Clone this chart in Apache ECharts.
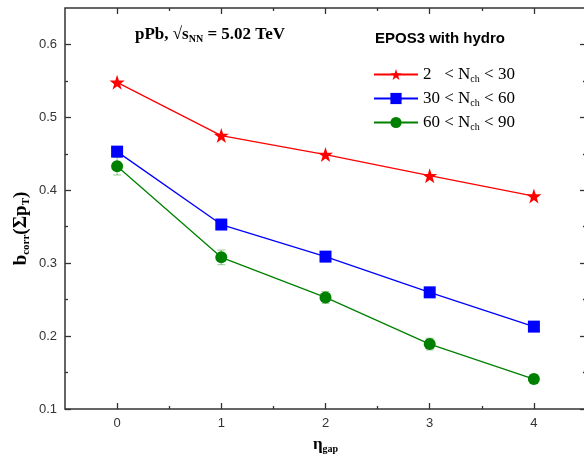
<!DOCTYPE html>
<html>
<head>
<meta charset="utf-8">
<script src="https://cdn.jsdelivr.net/npm/echarts@6/dist/echarts.min.js"></script>
<style>html,body{margin:0;padding:0;background:#fff}#c{width:584px;height:458px}</style>
</head>
<body>
<div id="c"></div>
<script>
var etaGap = [0, 1, 2, 3, 4];
var low = [0.548, 0.475, 0.449, 0.420, 0.392];
var mid = [0.453, 0.353, 0.309, 0.260, 0.213];
var high = [0.433, 0.308, 0.253, 0.189, 0.141];
var highErr = [0.012, 0.010, 0.008, 0.008, 0.006];
var xMajor = [0, 1, 2, 3, 4];
var xMinor = [0.5, 1.5, 2.5, 3.5];
var yMajor = [0.1, 0.2, 0.3, 0.4, 0.5, 0.6];
var yMinor = [0.15, 0.25, 0.35, 0.45, 0.55];
var seriesNames = ['2-30', '30-60', '60-90'];
var legendLabels = {
  '2-30': '2   < N{sub|ch} < 30',
  '30-60': '30 < N{sub|ch} < 60',
  '60-90': '60 < N{sub|ch} < 90'
};

function pairs(ys) { return etaGap.map(function (x, i) { return [x, ys[i]]; }); }

var serif = '"Liberation Serif", "Times New Roman", serif';
var sans = '"Liberation Sans", Arial, sans-serif';
var subStyle = { fontFamily: serif, fontSize: 10, padding: [9, 0, 0, 0] };

function xAx(pos, ticks, len, labels) {
  return {
    type: 'value', position: pos, min: -0.5, max: 4.5, gridIndex: 0,
    axisLine: { show: false, onZero: false },
    splitLine: { show: false },
    axisTick: { show: true, inside: true, length: len, customValues: ticks, lineStyle: { color: '#333', width: 1.3 } },
    axisLabel: labels ? { show: true, customValues: ticks, margin: 8, fontFamily: sans, fontSize: 13, color: '#333' } : { show: false }
  };
}
function yAx(pos, ticks, len, labels) {
  return {
    type: 'value', position: pos, min: 0.1, max: 0.65, gridIndex: 0,
    axisLine: { show: false, onZero: false },
    splitLine: { show: false },
    axisTick: { show: true, inside: true, length: len, customValues: ticks, lineStyle: { color: '#333', width: 1.3 } },
    axisLabel: labels ? { show: true, customValues: ticks, margin: 8, fontFamily: sans, fontSize: 13, color: '#333',
      formatter: function (v) { return v.toFixed(1); } } : { show: false }
  };
}

var xAxes = [xAx('bottom', xMajor, 6, true), xAx('bottom', xMinor, 3, false), xAx('top', xMajor, 6, false), xAx('top', xMinor, 3, false)];
xAxes[0].name = '{b|\u03b7}{sub|gap}';
xAxes[0].nameLocation = 'middle';
xAxes[0].nameGap = 26;
xAxes[0].nameMoveOverlap = false;
xAxes[0].nameTextStyle = { fontFamily: serif, fontSize: 17, fontWeight: 'bold', color: '#000',
  rich: { b: { fontFamily: serif, fontSize: 17, fontWeight: 'bold', color: '#000' }, sub: { fontFamily: serif, fontSize: 10, fontWeight: 'bold', color: '#000', padding: [9, 0, 0, 0] } } };

var yAxes = [yAx('left', yMajor, 6, true), yAx('left', yMinor, 3, false), yAx('right', yMajor, 6, false), yAx('right', yMinor, 3, false)];
yAxes[0].name = '{b|b}{sub|corr}{b|(\u03a3p}{sub|T}{b|)}';
yAxes[0].nameLocation = 'middle';
yAxes[0].nameRotate = 90;
yAxes[0].nameGap = 33;
yAxes[0].nameMoveOverlap = false;
yAxes[0].nameTextStyle = { fontFamily: serif, fontSize: 19, fontWeight: 'bold', color: '#000', padding: [0, 40, 0, 0],
  rich: { b: { fontFamily: serif, fontSize: 19, fontWeight: 'bold', color: '#000' }, sub: { fontFamily: serif, fontSize: 11, fontWeight: 'bold', color: '#000', padding: [10, 0, 0, 0] } } };

var errData = etaGap.map(function (x, i) { return [x, high[i] - highErr[i], high[i] + highErr[i]]; });

var option = {
  animation: false,
  backgroundColor: '#fff',
  grid: { left: 65, top: 8, width: 521, height: 401, outerBoundsMode: 'none', containLabel: false,
    show: true, borderColor: '#333', borderWidth: 1.5, backgroundColor: 'transparent' },
  xAxis: xAxes,
  yAxis: yAxes,
  legend: {
    orient: 'vertical', left: 368, top: 61,
    itemWidth: 44, itemHeight: 14, itemGap: 6,
    data: seriesNames,
    formatter: function (n) { return legendLabels[n]; },
    textStyle: { fontFamily: serif, fontSize: 17, color: '#000', rich: { sub: subStyle } }
  },
  graphic: [
    { type: 'text', left: 135, top: 26, style: {
      text: '{a|pPb, \u221as}{sub|NN}{a| = 5.02 TeV}',
      rich: { a: { fontFamily: serif, fontSize: 17, fontWeight: 'bold', fill: '#000' },
              sub: { fontFamily: serif, fontSize: 10, fontWeight: 'bold', fill: '#000', padding: [9, 0, 0, 0] } } } },
    { type: 'text', left: 375, top: 31, style: { text: 'EPOS3 with hydro', fontFamily: sans, fontSize: 15, fontWeight: 'bold', fill: '#000' } }
  ],
  series: [
    {
      type: 'custom', name: 'err', xAxisIndex: 0, yAxisIndex: 0, z: 1, silent: true,
      renderItem: function (params, api) {
        var p0 = api.coord([api.value(0), api.value(1)]);
        var p1 = api.coord([api.value(0), api.value(2)]);
        var hw = 4;
        var st = { stroke: 'rgba(0,128,0,0.35)', lineWidth: 1.2 };
        return { type: 'group', children: [
          { type: 'line', shape: { x1: p0[0], y1: p0[1], x2: p1[0], y2: p1[1] }, style: st },
          { type: 'line', shape: { x1: p0[0] - hw, y1: p0[1], x2: p0[0] + hw, y2: p0[1] }, style: st },
          { type: 'line', shape: { x1: p1[0] - hw, y1: p1[1], x2: p1[0] + hw, y2: p1[1] }, style: st }
        ] };
      },
      encode: { x: 0, y: [1, 2] },
      data: errData
    },
    { type: 'line', name: seriesNames[0], data: pairs(low), symbol: 'path://M50,0 L61.8,35.4 L99,35.4 L69.1,57.3 L80.3,92.7 L50,70.8 L19.7,92.7 L30.9,57.3 L1,35.4 L38.2,35.4 Z',
      symbolSize: 15, color: '#ff0000', lineStyle: { width: 1.3, color: '#ff0000' }, itemStyle: { color: '#ff0000' }, z: 3 },
    { type: 'line', name: seriesNames[1], data: pairs(mid), symbol: 'rect', symbolSize: 12,
      color: '#0000ff', lineStyle: { width: 1.3, color: '#0000ff' }, itemStyle: { color: '#0000ff' }, z: 3 },
    { type: 'line', name: seriesNames[2], data: pairs(high), symbol: 'circle', symbolSize: 12,
      color: '#008000', lineStyle: { width: 1.3, color: '#008000' }, itemStyle: { color: '#008000' }, z: 3 }
  ]
};
var chart = echarts.init(document.getElementById('c'), null, { renderer: 'canvas' });
chart.setOption(option);
</script>
</body>
</html>
